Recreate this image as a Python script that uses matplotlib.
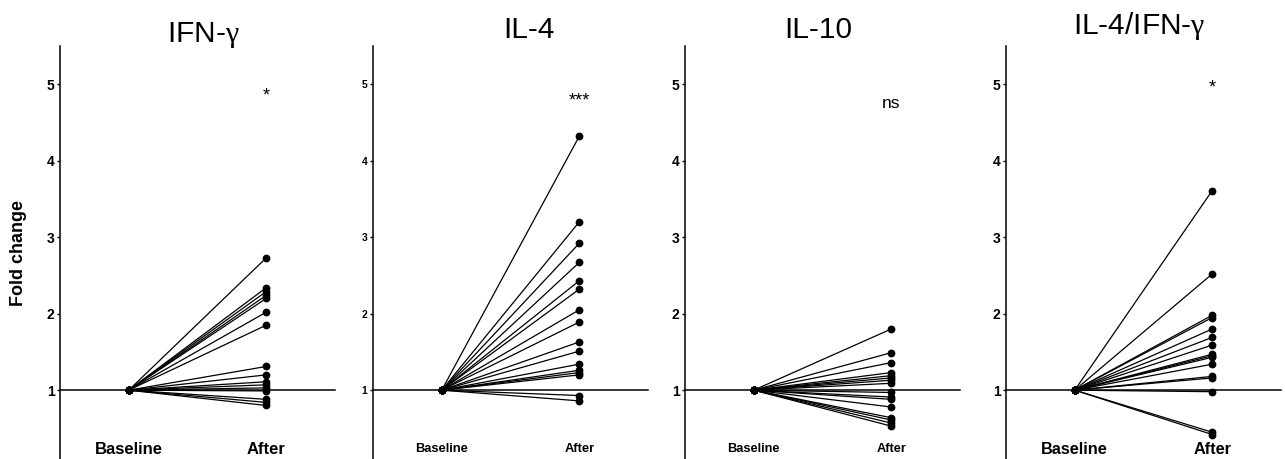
#!/usr/bin/env python3
"""Paired fold-change plots (baseline vs after) for four cytokine readouts.

    python3 plot.py   ->  out.png
"""

import matplotlib
matplotlib.use("Agg")
import matplotlib.pyplot as plt  # noqa: E402
from matplotlib import transforms  # noqa: E402

FONT = "Liberation Sans"
plt.rcParams["font.family"] = [FONT, "DejaVu Sans"]
# greek letters in titles come out of a serif face, like a Symbol font
plt.rcParams["mathtext.fontset"] = "custom"
plt.rcParams["mathtext.rm"] = "Liberation Serif"
plt.rcParams["mathtext.it"] = "Liberation Serif"

CATEGORIES = ["Baseline", "After"]
PANELS = [r"IFN-$\mathrm{\gamma}$", "IL-4", "IL-10", r"IL-4/IFN-$\mathrm{\gamma}$"]
SIGNIF = ["*", "***", "ns", "*"]
SIGNIF_Y = [4.85, 4.78, 4.75, 4.95]

# every subject is normalised to its own baseline
FOLD_BASELINE = 1.0

IFNG_AFTER = [2.73, 2.34, 2.29, 2.24, 2.20, 2.02, 1.85, 1.31,
              1.20, 1.11, 1.07, 1.03, 0.99, 0.88, 0.84, 0.80]
IL4_AFTER = [4.32, 3.20, 2.92, 2.67, 2.43, 2.32, 2.05, 1.89,
             1.63, 1.51, 1.34, 1.26, 1.23, 1.20, 0.93, 0.86]
IL10_AFTER = [1.80, 1.49, 1.36, 1.23, 1.19, 1.16, 1.13, 1.09,
              0.97, 0.91, 0.88, 0.78, 0.64, 0.61, 0.57, 0.53]
RATIO_AFTER = [3.61, 2.52, 1.98, 1.95, 1.80, 1.69, 1.59, 1.47,
               1.45, 1.43, 1.34, 1.18, 1.16, 0.98, 0.45, 0.42]
AFTER = [IFNG_AFTER, IL4_AFTER, IL10_AFTER, RATIO_AFTER]

YTICKS = [1, 2, 3, 4, 5]

# per-panel layout, in pixels of a 1285 x 459 canvas
W, H = 1285, 459
AX_LEFT = [60, 373, 685, 1006]
AX_WIDTH = 275
AX_TOP = 46
TICK_FS = [10, 7.5, 10, 10]
CAT_FS = [12, 9.3, 9.2, 11.7]
TITLE_X = [0.52, 0.567, 0.484, 0.484]
TITLE_GAP = [4, 8, 8, 12]


def draw_panel(fig, i):
    ax = fig.add_axes([AX_LEFT[i] / W, 0, AX_WIDTH / W, (H - AX_TOP) / H])
    for v in AFTER[i]:
        ax.plot([0, 1], [FOLD_BASELINE, v], color="black", lw=0.9,
                marker="o", ms=4.6, mfc="black", mec="black",
                solid_capstyle="butt", zorder=3)

    ax.set_xlim(-0.5, 1.5)
    ax.set_ylim(0.1, 5.5)
    ax.set_yticks(YTICKS)
    ax.set_yticklabels([str(t) for t in YTICKS], fontsize=TICK_FS[i],
                       fontweight="bold")
    ax.tick_params(axis="y", length=2.5, width=1.0, pad=1.5)
    ax.set_xticks([])

    for side in ("top", "right"):
        ax.spines[side].set_visible(False)
    ax.spines["left"].set_linewidth(1.1)
    ax.spines["bottom"].set_position(("data", 1.0))
    ax.spines["bottom"].set_linewidth(1.1)

    # category labels sit just above the bottom edge
    trans = transforms.blended_transform_factory(ax.transData, ax.transAxes)
    for x, name in enumerate(CATEGORIES):
        ax.text(x, 0.024, name, transform=trans, ha="center", va="center",
                fontsize=CAT_FS[i], fontweight="bold")

    ax.text(1, SIGNIF_Y[i], SIGNIF[i], ha="center", va="center",
            fontsize=12.5 if SIGNIF[i] == "ns" else 13)

    ax.text(TITLE_X[i], 1 + TITLE_GAP[i] / (H - AX_TOP), PANELS[i],
            transform=ax.transAxes, ha="center", va="baseline", fontsize=21.5)
    return ax


def main():
    fig = plt.figure(figsize=(W / 100, H / 100), dpi=100)
    axes = [draw_panel(fig, i) for i in range(len(PANELS))]
    axes[0].set_ylabel("Fold change", fontsize=13, fontweight="bold",
                       labelpad=14)
    fig.savefig("out.png", dpi=100)
    plt.close(fig)


if __name__ == "__main__":
    main()
